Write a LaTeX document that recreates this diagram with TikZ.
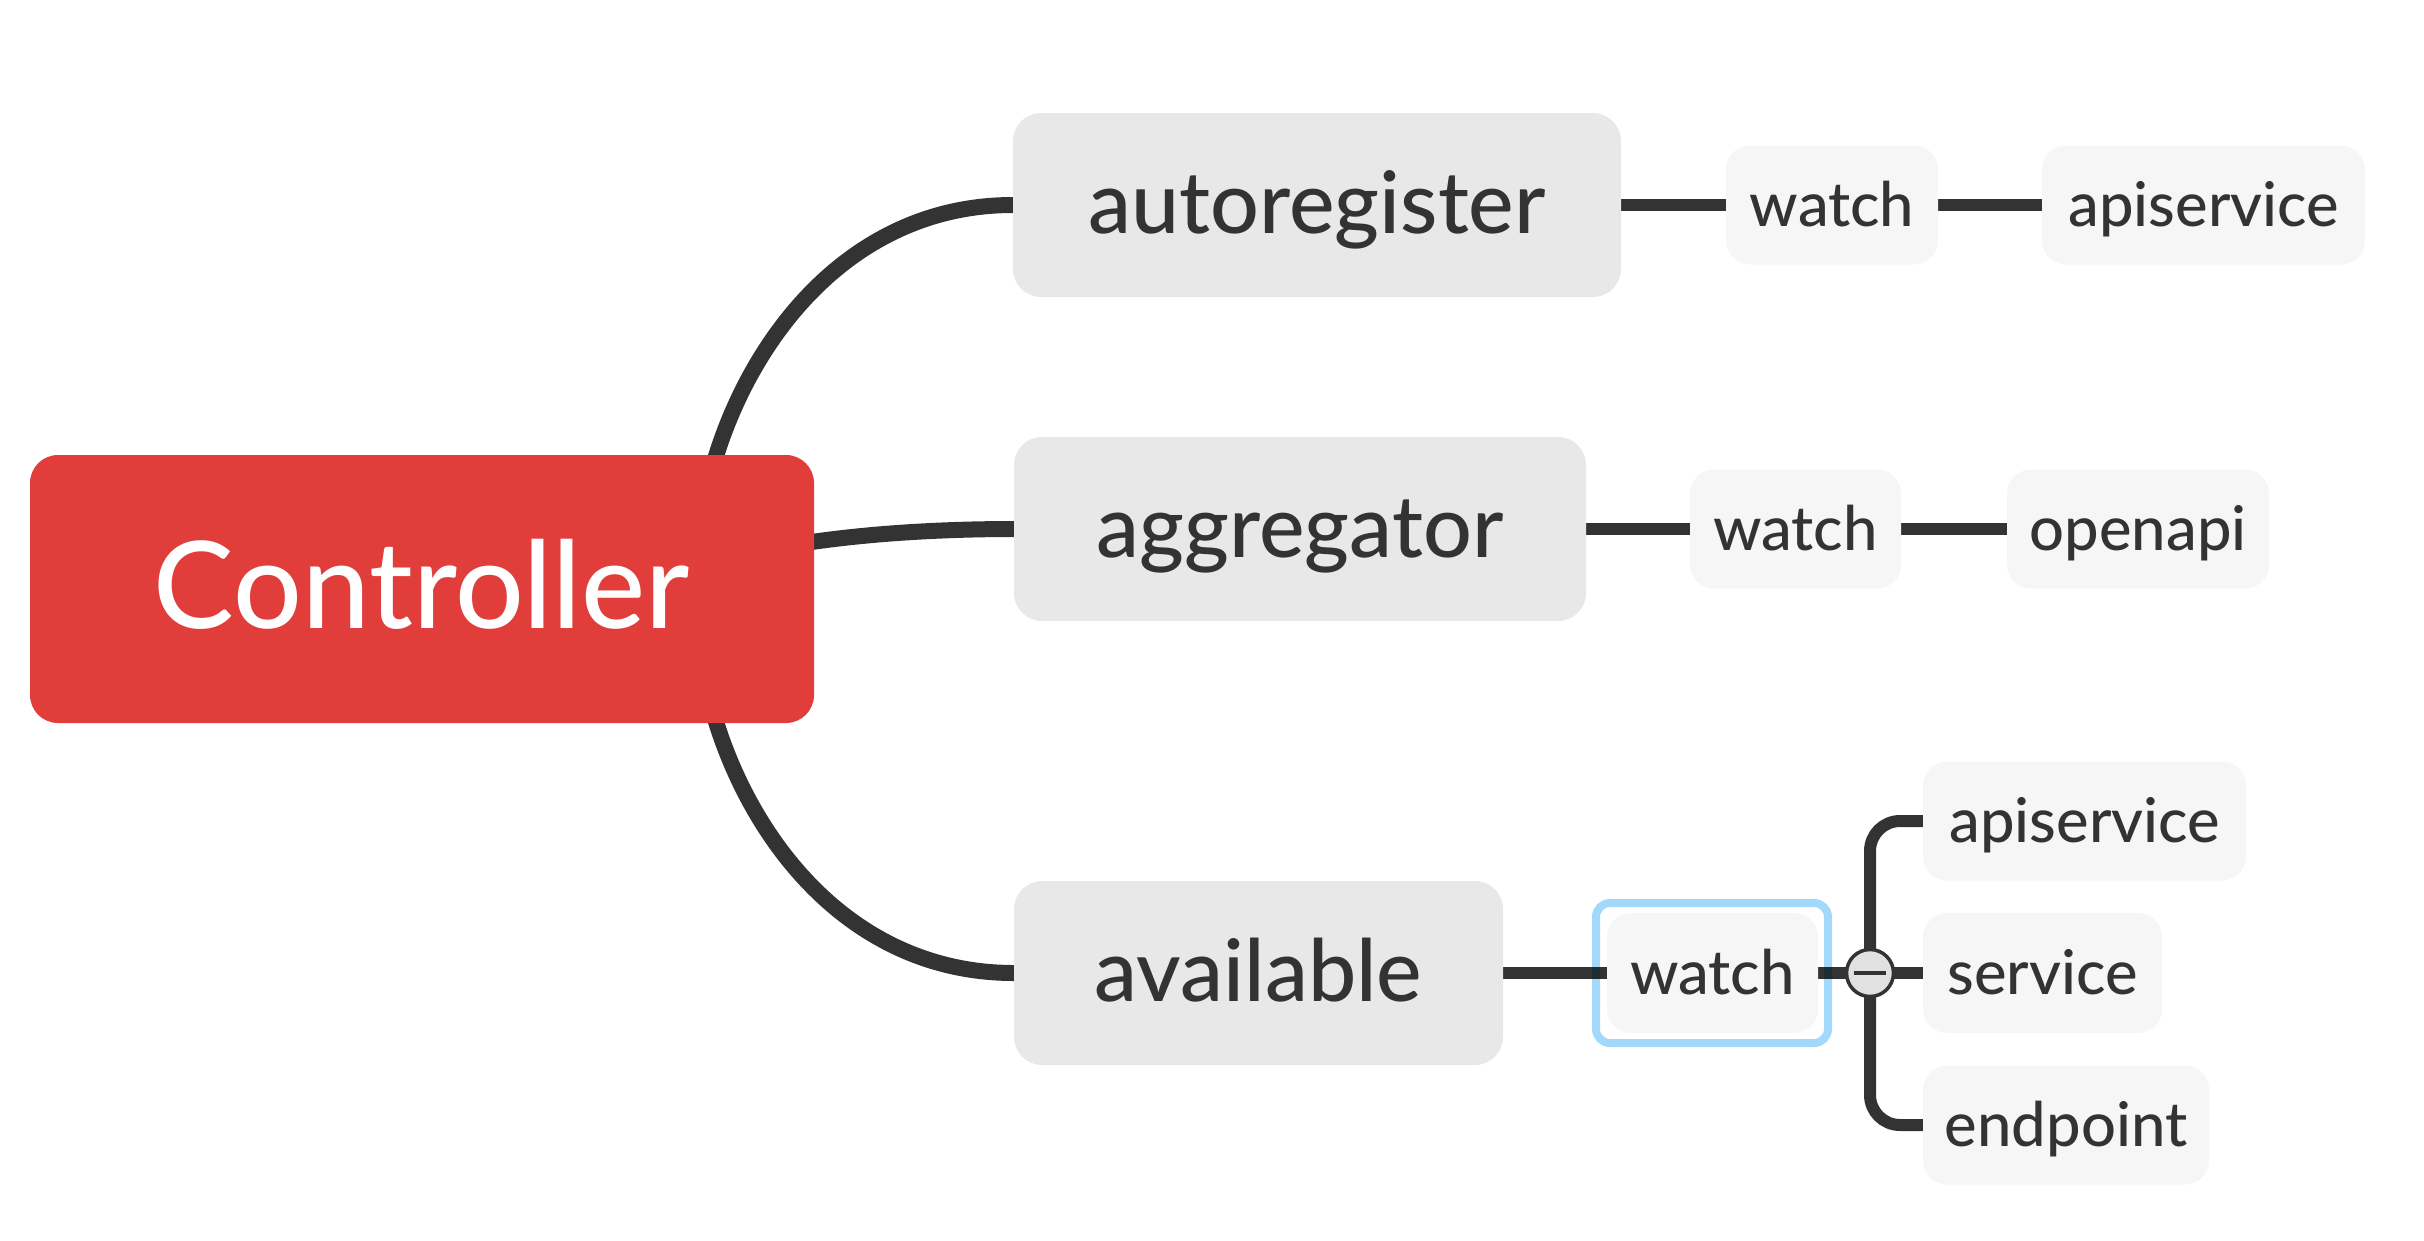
\documentclass[tikz,border=0pt]{standalone}
\usepackage{fontspec}
\setmainfont{Lato Medium}
\usetikzlibrary{backgrounds,calc}
\definecolor{ctrlred}{HTML}{E03D3B}
\definecolor{mainfill}{HTML}{E8E8E8}
\definecolor{subfill}{HTML}{F6F6F6}
\definecolor{ink}{HTML}{333333}
\definecolor{selblue}{HTML}{A2D9FA}
\definecolor{knobfill}{HTML}{E1E1E1}
\begin{document}
\begin{tikzpicture}[x=1pt,y=-1pt,
 rootbox/.style={fill=ctrlred, rounded corners=28pt, minimum width=784pt, minimum height=268pt, text=white, font=\fontsize{121}{130}\selectfont, text height=79pt, text depth=0pt, inner sep=0pt},
 mainbox/.style={fill=mainfill, rounded corners=28pt, minimum height=184pt, text=ink, font=\fontsize{86}{100}\selectfont, text height=56pt, text depth=0pt, inner sep=0pt},
 subbox/.style={fill=subfill, rounded corners=24pt, minimum height=119pt, text=ink, font=\fontsize{61.5}{72}\selectfont, text height=42pt, text depth=0pt, inner sep=0pt},
 selframe/.style={draw=selblue, blend mode=multiply, line width=8pt, rounded corners=14pt, minimum width=232pt, minimum height=140pt, inner sep=0pt},
 knob/.style={circle, fill=knobfill, draw=ink, line width=3.5pt, minimum size=47pt, inner sep=0pt},
 mainline/.style={draw=ink, line width=16pt},
 subline/.style={draw=ink, line width=12pt},
]
\useasboundingbox (0,0) rectangle (2424,1240);
\node[rootbox] (ctrl) at (422,589) {Controller};
\node[mainbox, minimum width=608pt] (auto) at (1317,205) {autoregister};
\node[mainbox, minimum width=572pt] (aggr) at (1300,529) {aggregator};
\node[mainbox, minimum width=489pt] (avail) at (1258.5,973) {available};
\node[subbox, minimum width=212pt] (w1) at (1832,205) {watch};
\node[subbox, minimum width=323pt] (api1) at (2203.5,205) {apiservice};
\node[subbox, minimum width=211pt] (w2) at (1795.5,529) {watch};
\node[subbox, minimum width=262pt] (oapi) at (2138,529) {openapi};
\node[subbox, minimum width=211pt, minimum height=120pt] (w3) at (1712.5,973) {watch};
\node[subbox, minimum width=323pt] (api2) at (2084.5,821) {apiservice};
\node[subbox, minimum width=239pt, minimum height=120pt] (svc) at (2042.5,973) {service};
\node[subbox, minimum width=286pt] (endp) at (2066,1125) {endpoint};
\node[selframe] (sel) at (1712,973) {};
\node[knob] (circ) at (1870,973) {};
\draw[ink, line width=4pt] ($(circ.center)+(-16,0)$) -- ($(circ.center)+(16,0)$);
\begin{pgfonlayer}{background}
\draw[mainline] ($(ctrl.north)+(290,15)$) .. controls +(36,-130) and +(-163,0) .. (auto.west);
\draw[mainline] ($(ctrl.south)+(290,-15)$) .. controls +(36,130) and +(-164,0) .. (avail.west);
\draw[mainline] ($(ctrl.east)+(-74,-33)$) .. controls +(60,-16) and +(-114,0) .. (aggr.west);
\draw[subline] (auto.east) -- (w1.west);
\draw[subline] (w1.east) -- (api1.west);
\draw[subline] (aggr.east) -- (w2.west);
\draw[subline] (w2.east) -- (oapi.west);
\draw[subline] (avail.east) -- (w3.west);
\draw[subline] (w3.east) -- (circ.center);
\draw[subline] (circ.center) -- (svc.west);
\draw[subline, rounded corners=30pt] (circ.center) |- (api2.west);
\draw[subline, rounded corners=30pt] (circ.center) |- (endp.west);
\end{pgfonlayer}
\end{tikzpicture}
\end{document}
